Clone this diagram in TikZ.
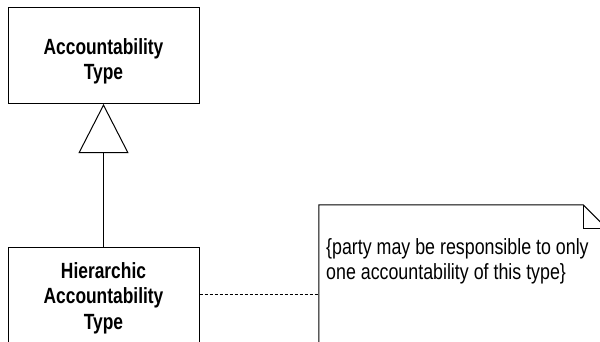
\documentclass[tikz,border=0pt]{standalone}
\usepackage{fontspec}
\setmainfont{Liberation Sans}[FakeStretch=0.79]
\newfontfamily\notefont{Liberation Sans}[FakeStretch=0.81]
\usetikzlibrary{arrows.meta}
\begin{document}
\begin{tikzpicture}[x=1pt,y=-1pt,
  classbox/.style={draw=black,line width=1pt,fill=white,inner sep=0pt},
  ctext/.style={inner sep=0pt,align=center,font=\fontsize{22}{25.5}\selectfont\bfseries},
  ntext/.style={inner sep=0pt,align=left,font=\notefont\fontsize{22}{25.5}\selectfont},
  gen/.style={line width=1pt,-{Triangle[open,length=49pt,width=50pt,fill=white]}},
  anchorline/.style={line width=0.8pt,dash pattern=on 3pt off 2pt}
]
\useasboundingbox (0,0) rectangle (600,341);
\clip (0,0) rectangle (600,341);
\fill[white] (0,0) rectangle (600,341);
% boxes
\node[classbox,minimum width=191pt,minimum height=96pt] (acc) at (103.5,55.5) {};
\node[ctext,anchor=north] (acct) at (103.5,38) {Accountability\\Type};
\node[classbox,minimum width=191pt,minimum height=130pt] (hier) at (103.5,312) {};
\node[ctext,anchor=north] (hiert) at (103.5,262) {Hierarchic\\Accountability\\Type};
% generalization
\draw[gen] (hier.north) -- (acc.south);
% note
\node[inner sep=0pt,minimum width=288pt,minimum height=178pt] (note) at (463,294) {};
\draw[line width=1pt,fill=white] (note.south west) -- (note.north west)
  -- ([xshift=-24pt]note.north east) -- ([yshift=-24pt]note.north east)
  -- (note.south east);
\draw[line width=1pt] ([xshift=-24pt]note.north east) |- ([yshift=-24pt]note.north east);
\node[ntext,anchor=north west] (notet) at (326,238) {\{party may be responsible to only\\one accountability of this type\}};
% anchor
\draw[anchorline] (hier.east |- note.west) -- (note.west);
\end{tikzpicture}
\end{document}
